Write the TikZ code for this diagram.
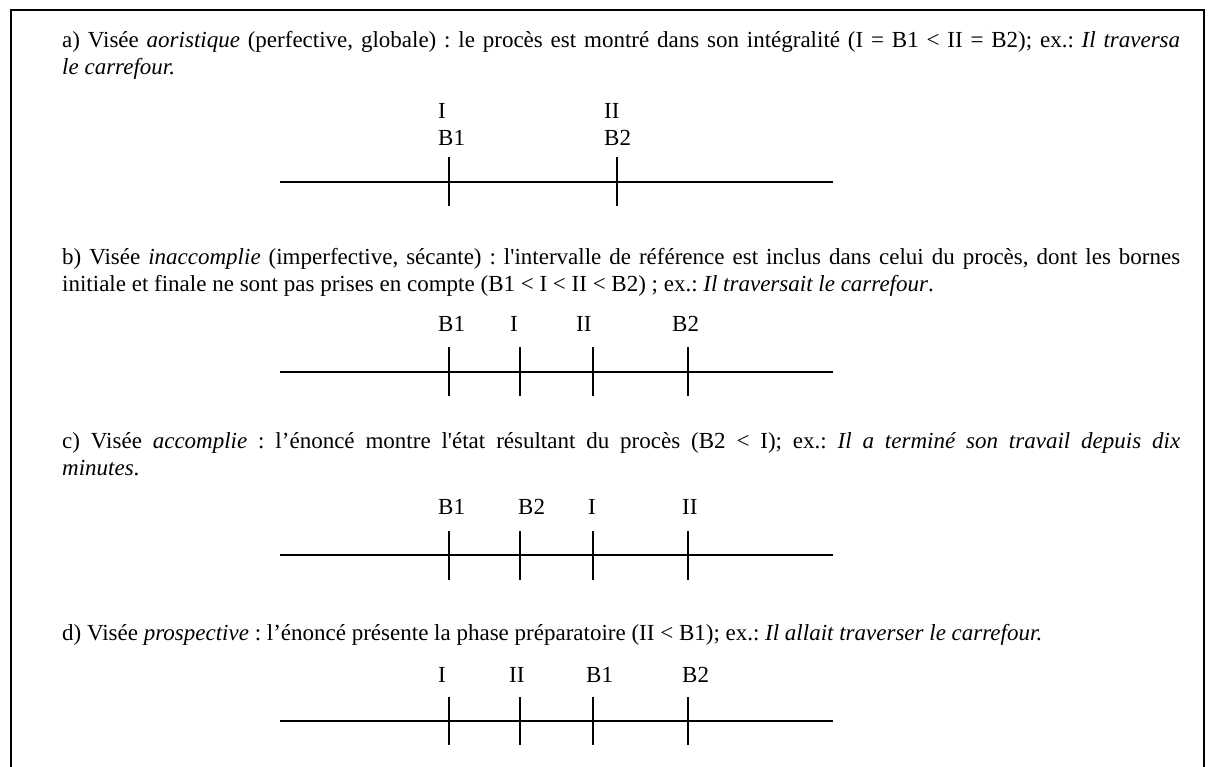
\documentclass[tikz,border=0pt]{standalone}
\usepackage{fontspec}
\setmainfont{Liberation Serif}
\frenchspacing

\tikzset{
  para/.style={anchor=base west, inner sep=0pt, text width=1118pt, align=justify,
    font=\fontsize{23}{26.5}\selectfont},
  lbl/.style={anchor=base west, inner sep=0pt, font=\fontsize{23}{26.5}\selectfont},
  axe/.style={line width=1.8pt},
  cadre/.style={line width=1.8pt}
}

\begin{document}
\begin{tikzpicture}[x=1pt,y=-1pt]
  \useasboundingbox (0,0) rectangle (1211,767);
  % cadre ouvert en bas
  \draw[cadre] (11,767) -- (11,10) -- (1204,10) -- (1204,767);

  % a) aoristique
  \node[para] (pa) at (62,48) {a) Visée \textit{aoristique} (perfective, globale) : le procès est montré dans son intégralité (I = B1 < II = B2); ex.: \textit{Il traversa\linebreak le carrefour.}};
  \node[lbl] (aI) at (438,119) {I};
  \node[lbl] (aB1) at (438,146) {B1};
  \node[lbl] (aII) at (604,119) {II};
  \node[lbl] (aB2) at (604,146) {B2};
  \draw[axe] (280,182) -- (833,182);
  \foreach \x in {449,617}
    \draw[axe] (\x,157) -- (\x,206);

  % b) inaccomplie
  \node[para] (pb) at (62,265) {b) Visée \textit{inaccomplie} (imperfective, sécante) : l\textquotesingle intervalle de référence est inclus dans celui du procès, dont les bornes\linebreak initiale et finale ne sont pas prises en compte (B1 < I < II < B2) ; ex.: \textit{Il traversait le carrefour}.};
  \node[lbl] (bB1) at (438,332) {B1};
  \node[lbl] (bI) at (510,332) {I};
  \node[lbl] (bII) at (576,332) {II};
  \node[lbl] (bB2) at (672,332) {B2};
  \draw[axe] (280,372) -- (833,372);
  \foreach \x in {449,520,593,688}
    \draw[axe] (\x,347) -- (\x,396);

  % c) accomplie
  \node[para] (pc) at (62,449) {c) Visée \textit{accomplie} : l’énoncé montre l\textquotesingle état résultant du procès (B2 < I); ex.: \textit{Il a terminé son travail depuis dix\linebreak minutes}.};
  \node[lbl] (cB1) at (438,514) {B1};
  \node[lbl] (cB2) at (518,514) {B2};
  \node[lbl] (cI) at (588,514) {I};
  \node[lbl] (cII) at (682,514) {II};
  \draw[axe] (280,555) -- (833,555);
  \foreach \x in {449,520,593,688}
    \draw[axe] (\x,531) -- (\x,580);

  % d) prospective
  \node[para] (pd) at (62,640) {d) Visée \textit{prospective} : l’énoncé présente la phase préparatoire (II < B1); ex.: \textit{Il allait traverser le carrefour.}};
  \node[lbl] (dI) at (438,682) {I};
  \node[lbl] (dII) at (509,682) {II};
  \node[lbl] (dB1) at (586,682) {B1};
  \node[lbl] (dB2) at (682,682) {B2};
  \draw[axe] (280,721) -- (833,721);
  \foreach \x in {449,520,593,688}
    \draw[axe] (\x,697) -- (\x,745);
\end{tikzpicture}
\end{document}
